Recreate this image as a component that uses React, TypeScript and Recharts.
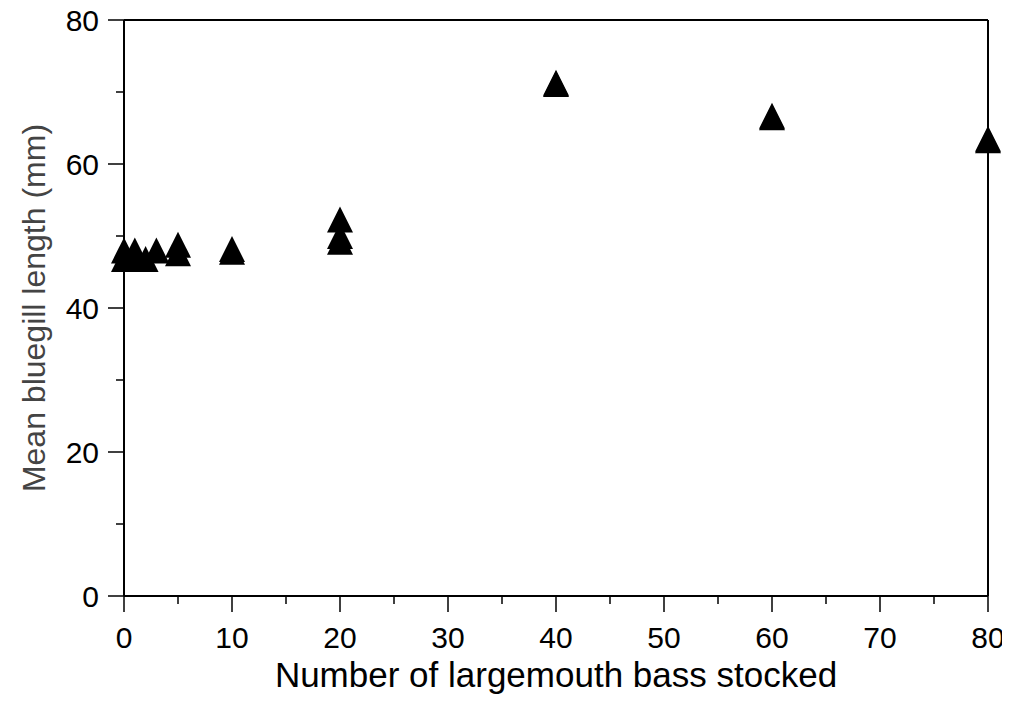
import { ScatterChart, Scatter, XAxis, YAxis, ReferenceLine, Label } from "recharts";

// number of bass stocked per pond and mean bluegill length (mm)
const stocked = [0, 0, 1, 1, 2, 3, 5, 5, 10, 10, 20, 20, 20, 40, 40, 60, 60, 80, 80];
const meanLength = [48.0, 46.8, 48.0, 47.0, 46.8, 48.0, 48.8, 47.6, 48.2, 47.8, 52.3, 50.0, 49.2, 71.3, 71.1, 66.7, 66.5, 63.5, 63.3];

const xTicks = [0, 5, 10, 15, 20, 25, 30, 35, 40, 45, 50, 55, 60, 65, 70, 75, 80];
const yTicks = [0, 10, 20, 30, 40, 50, 60, 70, 80];

const data = stocked.map((x, i) => ({ x, y: meanLength[i] }));

const FONT = "'Liberation Sans', Arial, Helvetica, sans-serif";

const XTick = (props: any) => {
	const { x, y, payload } = props;
	const major = payload.value % 10 === 0;
	const axisY = y - 31;
	return (
		<g>
			<line x1={x} x2={x} y1={axisY} y2={axisY + (major ? 16 : 8)} stroke="#000" strokeWidth={1.5} />
			{major && (
				<text x={x} y={y} dy="0.71em" textAnchor="middle" fontSize={30} fontFamily={FONT} fill="#000">
					{payload.value}
				</text>
			)}
		</g>
	);
};

const YTick = (props: any) => {
	const { x, y, payload } = props;
	const major = payload.value % 20 === 0;
	const axisX = x + 25;
	return (
		<g>
			<line x1={axisX} x2={axisX - (major ? 16 : 8)} y1={y} y2={y} stroke="#000" strokeWidth={1.5} />
			{major && (
				<text x={x} y={y} dy="0.36em" textAnchor="end" fontSize={30} fontFamily={FONT} fill="#000">
					{payload.value}
				</text>
			)}
		</g>
	);
};

const Triangle = (props: any) => {
	const { cx, cy } = props;
	const w = 13;
	const h = 13;
	return <path d={`M${cx},${cy - h} L${cx + w},${cy + h} L${cx - w},${cy + h} Z`} fill="#000" />;
};

export default function App() {
	return (
		<div style={{ marginTop: -8, marginRight: -8, height: 713 }}>
			<style>{`html, body { overflow: hidden; } .recharts-surface { overflow: visible; }`}</style>
			<ScatterChart
				width={1002}
				height={713}
				margin={{ top: 20, right: 22, bottom: 17, left: 8 }}
				style={{ display: "block" }}
			>
				<XAxis
					type="number"
					dataKey="x"
					domain={[0, 80]}
					ticks={xTicks}
					interval={0}
					height={100}
					tickSize={0}
					tickMargin={31}
					tick={<XTick />}
					axisLine={{ stroke: "#000", strokeWidth: 2 }}
				>
					<Label
						value="Number of largemouth bass stocked"
						position="insideBottom"
						offset={9}
						style={{ fontSize: 35, fontFamily: FONT, fill: "#000" }}
					/>
				</XAxis>
				<YAxis
					type="number"
					dataKey="y"
					domain={[0, 80]}
					ticks={yTicks}
					interval={0}
					width={108}
					tickSize={0}
					tickMargin={25}
					tick={<YTick />}
					axisLine={{ stroke: "#000", strokeWidth: 2 }}
				>
					<Label
						value="Mean bluegill length (mm)"
						angle={-90}
						position="insideLeft"
						offset={18}
						style={{ fontSize: 32, fontFamily: FONT, fill: "#444", textAnchor: "middle" }}
					/>
				</YAxis>
				<ReferenceLine y={80} stroke="#000" strokeWidth={2} />
				<ReferenceLine x={80} stroke="#000" strokeWidth={2} />
				<Scatter data={data} shape={<Triangle />} isAnimationActive={false} />
			</ScatterChart>
		</div>
	);
}
